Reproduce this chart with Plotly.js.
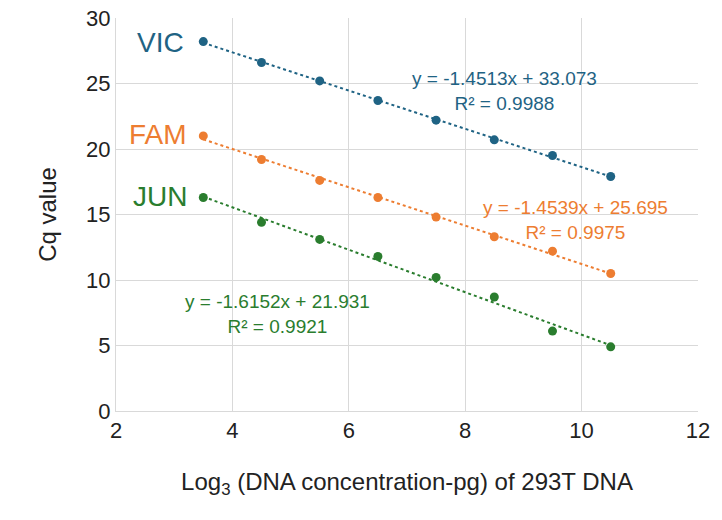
<!DOCTYPE html>
<html><head><script src="https://cdn.plot.ly/plotly-3.0.1.min.js"></script></head>
<body style="margin:0"><div id="c" style="width:722px;height:520px"></div>
<script>
const xs=[3.5,4.5,5.5,6.5,7.5,8.5,9.5,10.5];
const vic=[28.2,26.6,25.2,23.7,22.2,20.7,19.5,17.9];
const fam=[21.0,19.2,17.6,16.3,14.8,13.3,12.2,10.5];
const jun=[16.3,14.4,13.1,11.8,10.2,8.7,6.1,4.9];
const names=['VIC','FAM','JUN'];
const eqs=['y = -1.4513x + 33.073<br>R² = 0.9988','y = -1.4539x + 25.695<br>R² = 0.9975','y = -1.6152x + 21.931<br>R² = 0.9921'];
const cols=['#1f6384','#ed7d31','#2a7d2e'];
function fit(x,y){const n=x.length,mx=x.reduce((a,b)=>a+b)/n,my=y.reduce((a,b)=>a+b)/n;let sxy=0,sxx=0;x.forEach((v,i)=>{sxy+=(v-mx)*(y[i]-my);sxx+=(v-mx)**2});const m=sxy/sxx;return x.map(v=>my+m*(v-mx));}
const data=[];
[vic,fam,jun].forEach((s,i)=>{
 data.push({x:xs,y:fit(xs,s),mode:'lines',line:{color:cols[i],dash:'dot',width:2},hoverinfo:'skip'});
 data.push({x:xs,y:s,mode:'markers',marker:{color:cols[i],size:9}});
});
const lab=[[2.76,28.1],[2.72,21.1],[2.76,16.4]];
const eqp=[[8.68,24.4],[9.9,14.6],[4.78,7.4]];
const ann=[];
names.forEach((n,i)=>{
 ann.push({x:lab[i][0],y:lab[i][1],text:n,showarrow:false,font:{size:28,color:cols[i]}});
 ann.push({x:eqp[i][0],y:eqp[i][1],text:eqs[i],showarrow:false,font:{size:19,color:cols[i]}});
});
const layout={showlegend:false,margin:{l:116,r:24,t:18,b:109},paper_bgcolor:'white',plot_bgcolor:'white',
 font:{family:'Liberation Sans, Arial, sans-serif',color:'#222'},
 xaxis:{range:[2,12],dtick:2,showgrid:true,gridcolor:'#d9d9d9',zeroline:false,showline:true,linecolor:'#d9d9d9',tickfont:{size:22},ticks:'',
  title:{text:'Log<sub>3</sub> (DNA concentration-pg) of 293T DNA',font:{size:24},standoff:30}},
 yaxis:{range:[0,30],dtick:5,showgrid:true,gridcolor:'#d9d9d9',zeroline:false,showline:true,linecolor:'#d9d9d9',tickfont:{size:22},ticks:'',
  title:{text:'Cq value',font:{size:24},standoff:22}},
 annotations:ann};
Plotly.newPlot('c',data,layout,{displayModeBar:false});
</script></body></html>
